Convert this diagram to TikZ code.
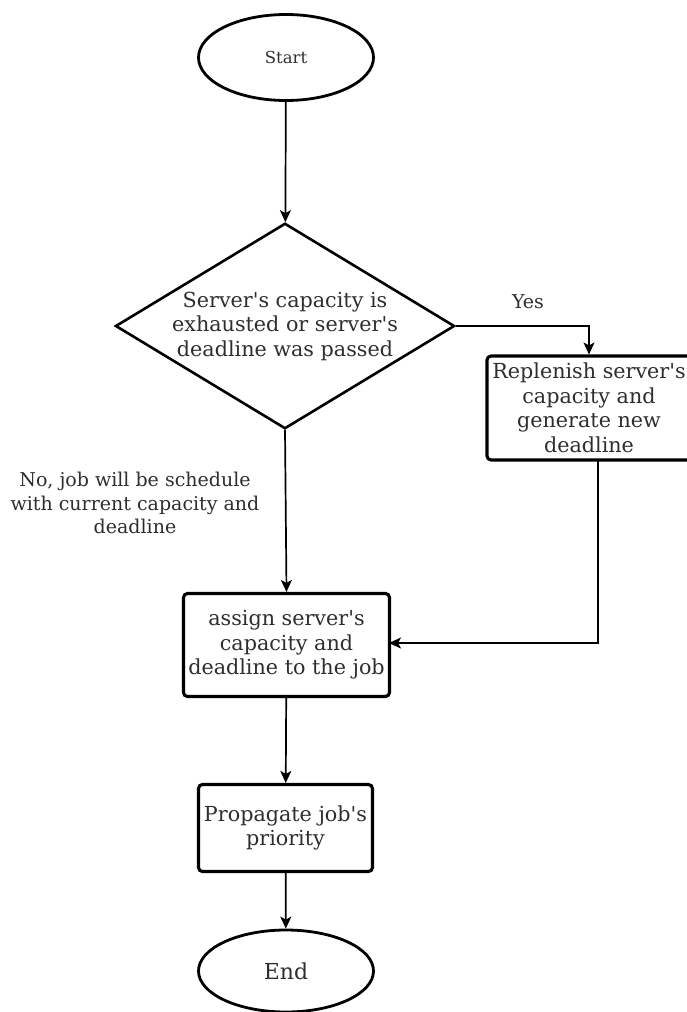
\documentclass[tikz,border=0pt]{standalone}
\usepackage{fontspec}
\setmainfont{DejaVu Serif}
\usetikzlibrary{shapes.geometric,arrows.meta}
\definecolor{txt}{HTML}{2e2e2e}
\newcommand\qs{\textquotesingle}
\tikzset{
  x=1pt, y=-1pt,
  every node/.style={text=txt, align=center, inner sep=0pt},
  term/.style={ellipse, draw, line width=2.8pt, minimum width=175pt, minimum height=86pt},
  proc/.style={rectangle, draw, line width=3.1pt, rounded corners=4pt},
  dec/.style={diamond, draw, line width=2.6pt, aspect=1.65, minimum width=336pt, minimum height=204pt},
  conn/.style={line width=1.7pt, -{Stealth[width=11pt,length=12pt,inset=3pt]}},
  big/.style={font=\fontsize{20.7}{24.5}\selectfont},
  lbl/.style={font=\fontsize{19}{23.5}\selectfont},
}
\begin{document}
\begin{tikzpicture}
\useasboundingbox (0,0) rectangle (687,1012);
\clip (0,0) rectangle (687,1012);

% terminals, decision and process boxes
\node[term, font=\fontsize{16.5}{20}\selectfont] (start) at (286,57.5) {Start};
\node[dec, big] (dec) at (285,326) {Server\qs s capacity is\\exhausted or server\qs s\\deadline was passed};
\node[proc, big, minimum width=204pt, minimum height=104pt] (rep) at (589,408) {Replenish server\qs s\\capacity and\\generate new\\deadline};
\node[proc, big, minimum width=206pt, minimum height=103pt] (asg) at (286.5,645) {assign server\qs s\\capacity and\\deadline to the job};
\node[proc, big, minimum width=174pt, minimum height=87pt] (prop) at (285.5,828) {Propagate job\qs s\\priority};
\node[term, font=\fontsize{22}{26}\selectfont, minimum height=82pt] (end) at (286,971) {End};

% branch labels
\node[lbl] (yes) at (528,302) {Yes};
\node[lbl] (no) at (135,503) {No, job will be schedule\\with current capacity and\\deadline};

\coordinate (repout) at (598,460);
\coordinate (asgin) at (389,643);

% connectors
\draw[conn] (start) -- (dec);
\draw[conn] (dec.east) -| (rep.north);
\draw[conn] (dec.south) -- (asg.north);
\draw[conn] (repout) |- (asgin);
\draw[conn] (asg) -- (prop);
\draw[conn] (prop) -- (end);
\end{tikzpicture}
\end{document}
